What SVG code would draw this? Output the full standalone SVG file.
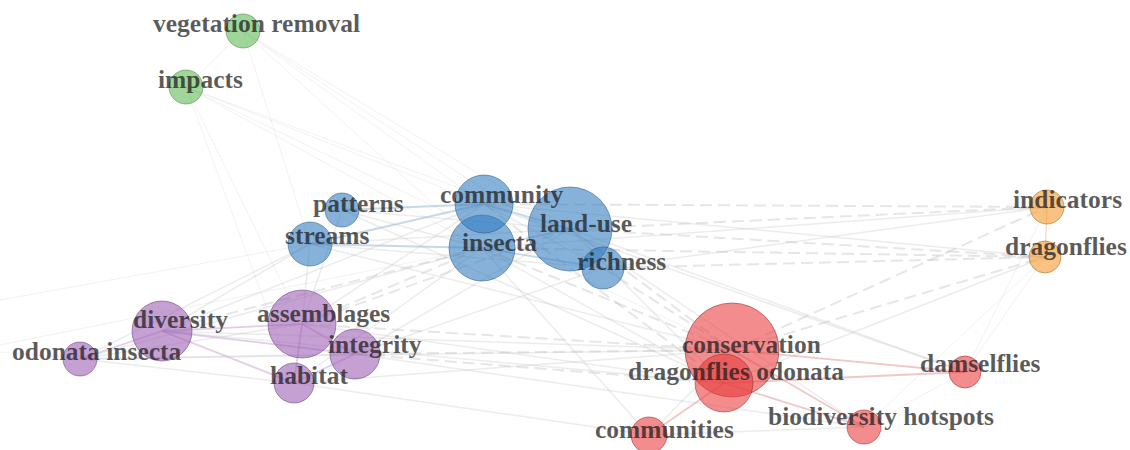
<svg xmlns="http://www.w3.org/2000/svg" width="1130" height="450" viewBox="0 0 1130 450">
<style>
.e{stroke:#c4c4c4;stroke-opacity:0.32;stroke-width:1.5;fill:none}
.ed{stroke:#c4c4c4;stroke-opacity:0.42;stroke-width:2;stroke-dasharray:12 6;fill:none}
.el{stroke:#d0d0d0;stroke-opacity:0.28;stroke-width:1;fill:none}
.eb{stroke:#8fb3d3;stroke-opacity:0.5;stroke-width:1.8;fill:none}
.ep{stroke:#c79bcf;stroke-opacity:0.5;stroke-width:1.8;fill:none}
.er{stroke:#e49a9a;stroke-opacity:0.55;stroke-width:1.8;fill:none}
.eo{stroke:#efc08a;stroke-opacity:0.6;stroke-width:1.2;fill:none}
.n{fill-opacity:0.58;stroke-width:1;stroke-opacity:0.5}
.green{fill:#5cb84f;stroke:#3f7f36}
.blue{fill:#2f7bbf;stroke:#1f4f7c}
.purple{fill:#9a5cb4;stroke:#5e3470}
.red{fill:#e8383b;stroke:#8e2224}
.orange{fill:#f5962a;stroke:#9a5f1a}
text{font-family:"Liberation Serif","Times New Roman",serif;font-weight:bold;font-size:25.5px;fill:#1a1a1a;fill-opacity:0.72}
</style>
<g id="connectors">
<line class="el" x1="243" y1="31" x2="186" y2="87"/>
<line class="el" x1="243" y1="31" x2="482" y2="248"/>
<line class="el" x1="243" y1="31" x2="570" y2="229"/>
<line class="el" x1="243" y1="31" x2="603" y2="268"/>
<line class="el" x1="243" y1="31" x2="484" y2="204"/>
<line class="el" x1="243" y1="31" x2="310" y2="244"/>
<line class="el" x1="186" y1="87" x2="482" y2="248"/>
<line class="el" x1="186" y1="87" x2="570" y2="229"/>
<line class="el" x1="186" y1="87" x2="484" y2="204"/>
<line class="el" x1="186" y1="87" x2="294" y2="383"/>
<line class="el" x1="186" y1="87" x2="732" y2="350"/>
<line class="el" x1="186" y1="87" x2="302" y2="324"/>
<line class="eb" x1="310" y1="244" x2="484" y2="204"/>
<line class="eb" x1="310" y1="244" x2="482" y2="248"/>
<line class="eb" x1="342" y1="210" x2="484" y2="204"/>
<line class="e" x1="342" y1="210" x2="482" y2="248"/>
<line class="e" x1="342" y1="210" x2="570" y2="229"/>
<line class="e" x1="310" y1="244" x2="570" y2="229"/>
<line class="e" x1="310" y1="244" x2="603" y2="268"/>
<line class="eb" x1="484" y1="204" x2="570" y2="229"/>
<line class="eb" x1="482" y1="248" x2="570" y2="229"/>
<line class="eb" x1="482" y1="248" x2="603" y2="268"/>
<line class="e" x1="484" y1="204" x2="603" y2="268"/>
<line class="ed" x1="484" y1="204" x2="1047" y2="207"/>
<line class="ed" x1="570" y1="229" x2="1047" y2="207"/>
<line class="ed" x1="570" y1="229" x2="1045" y2="257"/>
<line class="ed" x1="482" y1="248" x2="1045" y2="257"/>
<line class="ed" x1="603" y1="268" x2="1045" y2="257"/>
<line class="e" x1="484" y1="204" x2="1045" y2="257"/>
<line class="e" x1="603" y1="268" x2="1047" y2="207"/>
<line class="e" x1="482" y1="248" x2="1047" y2="207"/>
<line class="ed" x1="482" y1="248" x2="732" y2="350"/>
<line class="ed" x1="570" y1="229" x2="732" y2="350"/>
<line class="ed" x1="603" y1="268" x2="732" y2="350"/>
<line class="ed" x1="484" y1="204" x2="724" y2="383"/>
<line class="e" x1="482" y1="248" x2="724" y2="383"/>
<line class="e" x1="570" y1="229" x2="724" y2="383"/>
<line class="e" x1="484" y1="204" x2="965" y2="372"/>
<line class="e" x1="570" y1="229" x2="965" y2="372"/>
<line class="e" x1="482" y1="248" x2="649" y2="435"/>
<line class="e" x1="570" y1="229" x2="864" y2="427"/>
<line class="e" x1="310" y1="244" x2="732" y2="350"/>
<line class="e" x1="342" y1="210" x2="724" y2="383"/>
<line class="e" x1="310" y1="244" x2="162" y2="331"/>
<line class="e" x1="310" y1="244" x2="302" y2="324"/>
<line class="e" x1="310" y1="244" x2="80" y2="359"/>
<line class="ed" x1="482" y1="248" x2="302" y2="324"/>
<line class="ed" x1="482" y1="248" x2="162" y2="331"/>
<line class="e" x1="484" y1="204" x2="162" y2="331"/>
<line class="ed" x1="570" y1="229" x2="302" y2="324"/>
<line class="e" x1="570" y1="229" x2="355" y2="354"/>
<line class="e" x1="482" y1="248" x2="294" y2="383"/>
<line class="e" x1="484" y1="204" x2="302" y2="324"/>
<line class="e" x1="342" y1="210" x2="302" y2="324"/>
<line class="e" x1="603" y1="268" x2="355" y2="354"/>
<line class="e" x1="482" y1="248" x2="80" y2="359"/>
<line class="el" x1="0" y1="300" x2="310" y2="244"/>
<line class="el" x1="0" y1="345" x2="482" y2="248"/>
<line class="ep" x1="162" y1="331" x2="302" y2="324"/>
<line class="ep" x1="162" y1="331" x2="355" y2="354"/>
<line class="ep" x1="162" y1="331" x2="294" y2="383"/>
<line class="ep" x1="80" y1="359" x2="162" y2="331"/>
<line class="e" x1="80" y1="359" x2="302" y2="324"/>
<line class="e" x1="80" y1="359" x2="355" y2="354"/>
<line class="e" x1="80" y1="359" x2="294" y2="383"/>
<line class="ep" x1="302" y1="324" x2="355" y2="354"/>
<line class="ep" x1="302" y1="324" x2="294" y2="383"/>
<line class="ep" x1="355" y1="354" x2="294" y2="383"/>
<line class="el" x1="0" y1="352" x2="80" y2="359"/>
<line class="ed" x1="302" y1="324" x2="732" y2="350"/>
<line class="ed" x1="355" y1="354" x2="732" y2="350"/>
<line class="e" x1="162" y1="331" x2="732" y2="350"/>
<line class="e" x1="294" y1="383" x2="732" y2="350"/>
<line class="e" x1="302" y1="324" x2="724" y2="383"/>
<line class="ed" x1="355" y1="354" x2="724" y2="383"/>
<line class="e" x1="80" y1="359" x2="732" y2="350"/>
<line class="e" x1="294" y1="383" x2="649" y2="435"/>
<line class="e" x1="162" y1="331" x2="724" y2="383"/>
<line class="e" x1="355" y1="354" x2="864" y2="427"/>
<line class="ed" x1="732" y1="350" x2="1047" y2="207"/>
<line class="ed" x1="732" y1="350" x2="1045" y2="257"/>
<line class="e" x1="724" y1="383" x2="1045" y2="257"/>
<line class="el" x1="965" y1="372" x2="1045" y2="257"/>
<line class="el" x1="965" y1="372" x2="1047" y2="207"/>
<line class="el" x1="864" y1="427" x2="1045" y2="257"/>
<line class="eo" x1="1047" y1="207" x2="1045" y2="257"/>
<line class="er" x1="732" y1="350" x2="965" y2="372"/>
<line class="er" x1="724" y1="383" x2="965" y2="372"/>
<line class="er" x1="732" y1="350" x2="864" y2="427"/>
<line class="er" x1="724" y1="383" x2="649" y2="435"/>
<line class="er" x1="724" y1="383" x2="864" y2="427"/>
<line class="e" x1="649" y1="435" x2="864" y2="427"/>
<line class="el" x1="965" y1="372" x2="864" y2="427"/>
<line class="e" x1="732" y1="350" x2="649" y2="435"/>
</g>
<g id="node-land-use"><circle class="n blue" cx="570" cy="229" r="42"/><text x="540" y="232">land-use</text></g>
<g id="node-conservation"><circle class="n red" cx="732" cy="350" r="47"/><text x="682" y="353">conservation</text></g>
<g id="node-insecta"><circle class="n blue" cx="482" cy="248" r="33"/><text x="462" y="251">insecta</text></g>
<g id="node-community"><circle class="n blue" cx="484" cy="204" r="29"/><text x="440" y="203">community</text></g>
<g id="node-richness"><circle class="n blue" cx="603" cy="268" r="21"/><text x="577" y="270">richness</text></g>
<g id="node-streams"><circle class="n blue" cx="310" cy="244" r="22"/><text x="285" y="244">streams</text></g>
<g id="node-patterns"><circle class="n blue" cx="342" cy="210" r="17"/><text x="313" y="212">patterns</text></g>
<g id="node-vegetation-removal"><circle class="n green" cx="243" cy="31" r="17"/><text x="153" y="32">vegetation removal</text></g>
<g id="node-impacts"><circle class="n green" cx="186" cy="87" r="17"/><text x="158" y="88">impacts</text></g>
<g id="node-indicators"><circle class="n orange" cx="1047" cy="207" r="17"/><text x="1013" y="208">indicators</text></g>
<g id="node-dragonflies"><circle class="n orange" cx="1045" cy="257" r="16"/><text x="1005" y="255">dragonflies</text></g>
<g id="node-assemblages"><circle class="n purple" cx="302" cy="324" r="34"/><text x="257" y="322">assemblages</text></g>
<g id="node-diversity"><circle class="n purple" cx="162" cy="331" r="30"/><text x="133" y="328">diversity</text></g>
<g id="node-integrity"><circle class="n purple" cx="355" cy="354" r="25"/><text x="328" y="353">integrity</text></g>
<g id="node-habitat"><circle class="n purple" cx="294" cy="383" r="20"/><text x="270" y="384">habitat</text></g>
<g id="node-odonata-insecta"><circle class="n purple" cx="80" cy="359" r="17"/><text x="12" y="360">odonata insecta</text></g>
<g id="node-dragonflies-odonata"><circle class="n red" cx="724" cy="383" r="29"/><text x="628" y="380">dragonflies odonata</text></g>
<g id="node-damselflies"><circle class="n red" cx="965" cy="372" r="16"/><text x="920" y="372">damselflies</text></g>
<g id="node-biodiversity-hotspots"><circle class="n red" cx="864" cy="427" r="17"/><text x="768" y="425">biodiversity hotspots</text></g>
<g id="node-communities"><circle class="n red" cx="649" cy="435" r="18"/><text x="595" y="438">communities</text></g>
</svg>
